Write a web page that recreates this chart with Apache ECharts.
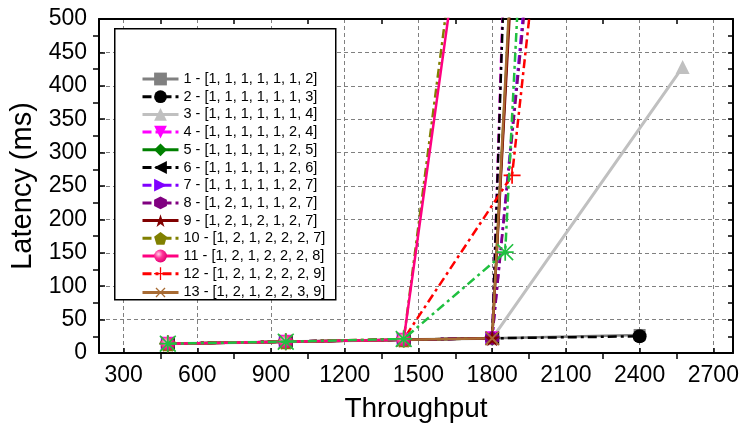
<!DOCTYPE html>
<html><head><meta charset="utf-8">
<script src="https://cdn.jsdelivr.net/npm/echarts@6/dist/echarts.min.js"></script>
<style>html,body{margin:0;padding:0;background:#fff}#c{width:741px;height:424px}</style>
</head><body><div id="c"></div>
<script>
// ---- tick labels ----
const xTickLabels = [300, 600, 900, 1200, 1500, 1800, 2100, 2400, 2700];
const xMinorTicks = [450, 750, 1050, 1350, 1650, 1950, 2250, 2550];
const yTickLabels = [0, 50, 100, 150, 200, 250, 300, 350, 400, 450, 500];
const yMinorTicks = [25, 75, 125, 175, 225, 275, 325, 375, 425, 475];

// ---- series names (legend) ----
const seriesNames = [
  '1 - [1, 1, 1, 1, 1, 1, 2]',
  '2 - [1, 1, 1, 1, 1, 1, 3]',
  '3 - [1, 1, 1, 1, 1, 1, 4]',
  '4 - [1, 1, 1, 1, 1, 2, 4]',
  '5 - [1, 1, 1, 1, 1, 2, 5]',
  '6 - [1, 1, 1, 1, 1, 2, 6]',
  '7 - [1, 1, 1, 1, 1, 2, 7]',
  '8 - [1, 2, 1, 1, 1, 2, 7]',
  '9 - [1, 2, 1, 2, 1, 2, 7]',
  '10 - [1, 2, 1, 2, 2, 2, 7]',
  '11 - [1, 2, 1, 2, 2, 2, 8]',
  '12 - [1, 2, 1, 2, 2, 2, 9]',
  '13 - [1, 2, 1, 2, 2, 3, 9]'
];
const extraName = '14';

// ---- series values: [throughput, latency] ----
const s1  = [[480, 14], [960, 17], [1440, 20], [1800, 22], [2400, 27]];
const s2  = [[480, 14], [960, 17], [1440, 20], [1800, 22], [2400, 25]];
const s3  = [[480, 14], [960, 17], [1440, 20], [1800, 22], [2575, 428]];
const s4  = [[480, 14], [960, 17], [1440, 20], [1800, 22], [1850, 600]];
const s5  = [[480, 14], [960, 17], [1440, 20], [1800, 22], [1882, 600]];
const s6  = [[480, 14], [960, 17], [1440, 20], [1800, 22], [1852, 600]];
const s7  = [[480, 14], [960, 17], [1440, 20], [1800, 22], [1950, 600]];
const s8  = [[480, 14], [960, 17], [1440, 20], [1800, 22], [1955, 600]];
const s9  = [[480, 14], [960, 17], [1440, 20], [1800, 22], [1885, 600]];
const s10 = [[480, 14], [960, 17], [1440, 20], [1644, 600]];
const s11 = [[480, 14], [960, 17], [1440, 20], [1658, 600]];
const s12 = [[480, 14], [960, 17], [1440, 21], [1881, 266], [1980, 600]];
const s13 = [[480, 14], [960, 17], [1440, 20], [1800, 22], [1880, 600]];
const s14 = [[480, 14], [960, 17], [1440, 21], [1853, 151], [1915, 600]];

const seriesData = [s1, s2, s3, s4, s5, s6, s7, s8, s9, s10, s11, s12, s13, s14];

// ---- styles ----
const P_STAR = 'path://M50,0 L61.8,35.5 L99,35.5 L69,57.4 L80.4,92.7 L50,70.9 L19.6,92.7 L31,57.4 L1,35.5 L38.2,35.5 Z';
const P_HEX = 'path://M50,0 L93.3,25 L93.3,75 L50,100 L6.7,75 L6.7,25 Z';
const P_PENT = 'path://M50,0 L97.6,34.5 L79.4,90.5 L20.6,90.5 L2.4,34.5 Z';
const P_PLUS = 'path://M45,0 H55 V45 H100 V55 H55 V100 H45 V55 H0 V45 H45 Z';
const P_AST = 'path://M45,0 L55,0 L55,100 L45,100 Z M0,45 L100,45 L100,55 L0,55 Z M7,0 L100,93 L93,100 L0,7 Z M93,0 L100,7 L7,100 L0,93 Z';
const DASHDOT = [9, 4, 3, 4];
const sphere = { type: 'radial', x: 0.35, y: 0.35, r: 0.7,
  colorStops: [{ offset: 0, color: '#ffd0e8' }, { offset: 0.45, color: '#ff3399' }, { offset: 1, color: '#e00070' }] };

const styles = [
  { color: '#808080', symbol: 'rect', size: 12, rot: 0, dash: 'solid', z: 2 },
  { color: '#000000', symbol: 'circle', size: 14, rot: 0, dash: DASHDOT, z: 2 },
  { color: '#c0c0c0', symbol: 'triangle', size: 14, rot: 0, dash: 'solid', z: 2 },
  { color: '#ff00ff', symbol: 'triangle', size: 14, rot: 180, dash: DASHDOT, z: 2 },
  { color: '#008000', symbol: 'diamond', size: 15, rot: 0, dash: 'solid', z: 2 },
  { color: '#000000', symbol: 'triangle', size: 14, rot: 90, dash: DASHDOT, z: 2 },
  { color: '#8000ff', symbol: 'triangle', size: 14, rot: -90, dash: DASHDOT, z: 2 },
  { color: '#800080', symbol: P_HEX, size: 14, rot: 0, dash: DASHDOT, z: 2 },
  { color: '#800000', symbol: P_STAR, size: 16, rot: 0, dash: 'solid', z: 2 },
  { color: '#808000', symbol: P_PENT, size: 15, rot: 0, dash: DASHDOT, z: 2 },
  { color: '#ff0080', symbol: 'circle', size: 14, rot: 0, dash: 'solid', fill: sphere, z: 3 },
  { color: '#ff0000', symbol: P_PLUS, size: 17, rot: 0, dash: DASHDOT, z: 2 },
  { color: '#a86b33', symbol: P_PLUS, size: 19, rot: 45, dash: 'solid', z: 2 },
  { color: '#20c040', symbol: P_AST, size: 17, rot: 0, dash: DASHDOT, z: 4 }
];

const FONT = "'Liberation Sans', Arial, sans-serif";
const axisLineStyle = { color: '#000', width: 2 };
const tickLineStyle = { color: '#000', width: 1.5 };
const gridLineStyle = { type: [4, 3], color: '#808080', width: 1 };
const XMIN = 200, XMAX = 2780;

const series = seriesData.map((d, i) => {
  const st = styles[i];
  return {
    type: 'line',
    name: i < seriesNames.length ? seriesNames[i] : extraName,
    data: d,
    z: st.z,
    symbol: st.symbol,
    symbolSize: st.size,
    symbolRotate: st.rot,
    showAllSymbol: true,
    clip: true,
    lineStyle: { color: st.color, width: i === 2 ? 3 : 2.5, type: st.dash },
    itemStyle: { color: st.fill || st.color, borderWidth: 0 },
    emphasis: { disabled: true },
    animation: false
  };
});

const chart = echarts.init(document.getElementById('c'), null, { renderer: 'canvas' });
chart.setOption({
  animation: false,
  backgroundColor: '#fff',
  grid: { left: 99, right: 8, top: 19, bottom: 71, containLabel: false, outerBoundsMode: 'none' },
  xAxis: [
    {
      type: 'value', position: 'bottom', min: XMIN, max: XMAX,
      axisLine: { show: true, onZero: false, lineStyle: axisLineStyle },
      axisTick: { show: true, inside: true, length: 5, customValues: xTickLabels, lineStyle: tickLineStyle },
      axisLabel: { customValues: xTickLabels, fontSize: 23, color: '#000', margin: 11, fontFamily: FONT,
        formatter: v => String(v) },
      splitLine: { show: true, lineStyle: gridLineStyle },
      name: 'Throughput', nameLocation: 'middle', nameGap: 42,
      nameTextStyle: { fontSize: 28, color: '#000', fontFamily: FONT }
    },
    {
      type: 'value', position: 'bottom', min: XMIN, max: XMAX,
      axisLine: { show: false },
      axisTick: { show: true, inside: false, length: 6, customValues: xMinorTicks, lineStyle: tickLineStyle },
      axisLabel: { show: false }, splitLine: { show: false }
    },
    {
      type: 'value', position: 'top', min: XMIN, max: XMAX,
      axisLine: { show: true, onZero: false, lineStyle: axisLineStyle },
      axisTick: { show: true, inside: true, length: 5, customValues: xMinorTicks, lineStyle: tickLineStyle },
      axisLabel: { show: false }, splitLine: { show: false }
    }
  ],
  yAxis: [
    {
      type: 'value', position: 'left', min: 0, max: 500, interval: 50,
      axisLine: { show: true, onZero: false, lineStyle: axisLineStyle },
      axisTick: { show: true, inside: true, length: 6, lineStyle: tickLineStyle },
      axisLabel: { customValues: yTickLabels, fontSize: 23, color: '#000', margin: 12, fontFamily: FONT,
        formatter: v => String(v) },
      splitLine: { show: true, lineStyle: gridLineStyle },
      name: 'Latency (ms)', nameLocation: 'middle', nameGap: 62,
      nameTextStyle: { fontSize: 29, color: '#000', fontFamily: FONT }
    },
    {
      type: 'value', position: 'left', min: 0, max: 500,
      axisLine: { show: false },
      axisTick: { show: true, inside: false, length: 6, customValues: yMinorTicks, lineStyle: tickLineStyle },
      axisLabel: { show: false }, splitLine: { show: false }
    },
    {
      type: 'value', position: 'right', min: 0, max: 500, interval: 25,
      axisLine: { show: true, onZero: false, lineStyle: axisLineStyle },
      axisTick: { show: true, inside: true, length: 5, lineStyle: tickLineStyle },
      axisLabel: { show: false }, splitLine: { show: false }
    }
  ],
  legend: {
    orient: 'vertical', left: 141, top: 71, padding: 0,
    itemWidth: 36, itemHeight: 16, itemGap: 1.7,
    data: seriesNames, selectedMode: false, z: 20,
    lineStyle: { width: 3 },
    textStyle: { fontSize: 14.5, color: '#000', fontFamily: FONT, lineHeight: 16 }
  },
  graphic: [
    { type: 'rect', left: 114, top: 28, z: 10, silent: true,
      shape: { width: 221, height: 271 },
      style: { fill: '#fff', stroke: '#000', lineWidth: 1.5 } }
  ],
  series: series
});
</script>
</body></html>
